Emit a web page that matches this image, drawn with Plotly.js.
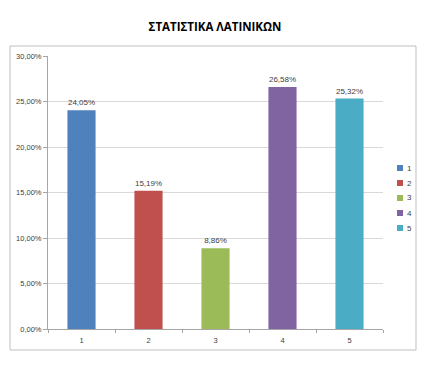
<!DOCTYPE html>
<html>
<head>
<meta charset="utf-8">
<script src="https://cdn.plot.ly/plotly-3.0.1.min.js"></script>
<style>html,body{margin:0;padding:0;background:#fff;}#chart{width:430px;height:365px;}</style>
</head>
<body>
<div id="chart"></div>
<script>
const categories = ['1', '2', '3', '4', '5'];
const values = [0.2405, 0.1519, 0.0886, 0.2658, 0.2532];
const colors = ['#4F81BD', '#C0504D', '#9BBB59', '#8064A2', '#4BACC6'];
const yTicks = [0, 0.05, 0.10, 0.15, 0.20, 0.25, 0.30];

const W = 430, H = 365, ML = 48, MR = 47, MT = 56, MB = 36;
const PW = W - ML - MR, PH = H - MT - MB;
const px = x => (x - ML) / PW;          // pixel -> paper x
const py = y => (H - MB - y) / PH;      // pixel -> paper y

const traces = categories.map((c, i) => ({
  type: 'bar', x: [c], y: [values[i]], name: c,
  marker: {color: colors[i]}, width: 0.42,
  texttemplate: '%{y:.2%}', textposition: 'outside',
  textfont: {size: 8, color: '#404040', family: 'Liberation Sans, Arial, sans-serif'},
  cliponaxis: false, showlegend: false, hoverinfo: 'none'
}));

// custom legend (small squares + labels) built from categories/colors
const shapes = [{type: 'rect', xref: 'paper', yref: 'paper', x0: px(10), x1: px(416), y0: py(350), y1: py(46),
  line: {color: '#bfbfbf', width: 1}, fillcolor: 'rgba(0,0,0,0)', layer: 'below'}];
const annotations = [];
categories.forEach((c, i) => {
  const cy = 168 + i * 15;
  shapes.push({type: 'rect', xref: 'paper', yref: 'paper', x0: px(397), x1: px(403), y0: py(cy + 3), y1: py(cy - 3),
    line: {width: 0}, fillcolor: colors[i]});
  annotations.push({xref: 'paper', yref: 'paper', x: px(405), y: py(cy), xanchor: 'left', yanchor: 'middle',
    text: c, showarrow: false, font: {size: 8, color: '#404040'}});
});

const layout = {
  width: W, height: H,
  margin: {l: ML, r: MR, t: MT, b: MB, autoexpand: false},
  paper_bgcolor: '#fff', plot_bgcolor: '#fff',
  separators: ', ',
  barmode: 'overlay', showlegend: false,
  title: {text: '<b>ΣΤΑΤΙΣΤΙΚΑ ΛΑΤΙΝΙΚΩΝ</b>', x: 0.5, xanchor: 'center', y: 0.926, yanchor: 'middle',
    font: {size: 11.5, family: 'Open Sans, Liberation Sans, sans-serif', color: '#000'}},
  font: {family: 'Liberation Sans, Arial, sans-serif', size: 7.5, color: '#404040'},
  xaxis: {type: 'category', categoryorder: 'array', categoryarray: categories,
    showline: true, linecolor: '#a6a6a6', linewidth: 1, ticks: 'outside', tickson: 'boundaries',
    ticklen: 3, tickcolor: '#a6a6a6', ticklabelstandoff: 4, showgrid: false, zeroline: false, fixedrange: true, automargin: false},
  yaxis: {range: [0, 0.30], tickvals: yTicks, tickformat: '.2%',
    showline: true, linecolor: '#a6a6a6', linewidth: 1, ticks: 'outside', ticklen: 4, tickcolor: '#a6a6a6',
    showgrid: true, gridcolor: '#d9d9d9', gridwidth: 1, zeroline: false, fixedrange: true, automargin: false},
  shapes: shapes,
  annotations: annotations
};

Plotly.newPlot('chart', traces, layout, {displayModeBar: false, staticPlot: true});
</script>
</body>
</html>
